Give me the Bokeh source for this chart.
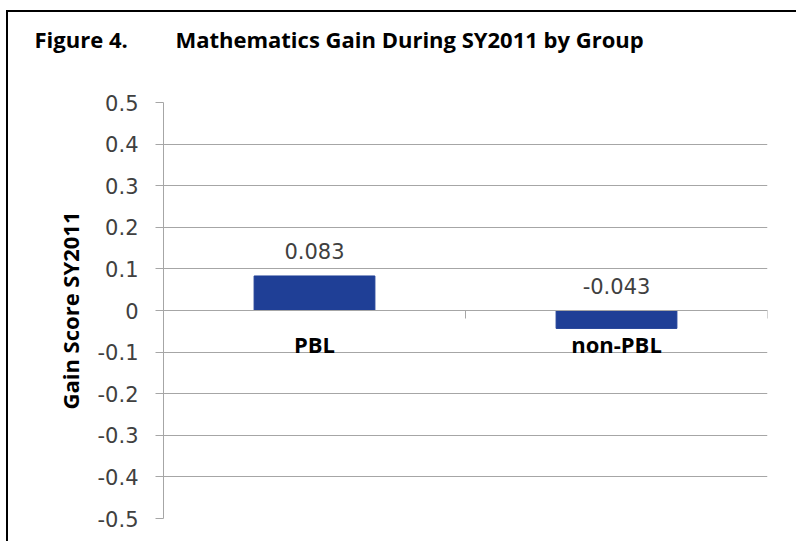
from bokeh.plotting import figure
from bokeh.models import (Range1d, LinearAxis, FixedTicker, ColumnDataSource, Title)
from bokeh.core.properties import value
from bokeh.embed import file_html
from bokeh.resources import INLINE

# ---- data ----
categories = ["PBL", "non-PBL"]
gain_values = [0.083, -0.043]
gain_labels = ["0.083", "-0.043"]
y_ticks = [-0.5, -0.4, -0.3, -0.2, -0.1, 0, 0.1, 0.2, 0.3, 0.4, 0.5]
y_tick_labels = ["-0.5", "-0.4", "-0.3", "-0.2", "-0.1", "0", "0.1", "0.2", "0.3", "0.4", "0.5"]
title_text = "Figure 4.\u2003\u2003\u2009Mathematics Gain During SY2011 by Group"
y_axis_title = "Gain Score SY2011"

GRID = "#A6A6A6"
BAR = "#1F3F96"
TXT = "#404040"

n = len(categories)
source = ColumnDataSource(dict(
    cat=categories,
    pos=[i + 0.5 for i in range(n)],          # category centres
    val=gain_values,
    lab=gain_labels,
    laby=[max(v, 0) for v in gain_values],
    zero=[0 for _ in gain_values],
))

p = figure(
    width=790, height=531,
    x_range=Range1d(0, n),
    y_range=Range1d(y_ticks[0], y_ticks[-1]),
    x_axis_location=None,
    output_backend="svg", toolbar_location=None, tools="",
    min_border_left=155, min_border_right=31, min_border_top=90, min_border_bottom=25,
)
p.styles = {"border-top": "2px solid black", "border-left": "2px solid black",
            "margin-left": "6px", "margin-top": "10px"}
p.outline_line_color = None
p.background_fill_color = "white"
p.border_fill_color = "white"

# title (outermost in the top panel)
p.title.text = title_text
p.title.text_font = "Open Sans"
p.title.text_font_style = "bold"
p.title.text_font_size = "22px"
p.title.text_color = "black"
p.title.align = "left"
p.title.vertical_align = "bottom"
p.title.offset = -129
p.title.standoff = 0
# blank spacer between title and plot area
p.add_layout(Title(text=" ", text_font_size="1px", standoff=46), "above")

# y axis
yax = p.yaxis[0]
yax.ticker = FixedTicker(ticks=y_ticks)
yax.major_label_overrides = {t: l for t, l in zip(y_ticks, y_tick_labels)}
yax.major_label_text_font = "DejaVu Sans"
yax.major_label_text_font_size = "21px"
yax.major_label_text_color = TXT
yax.major_label_standoff = 17
yax.major_tick_out = 8
yax.major_tick_in = 0
yax.minor_tick_out = 0
yax.minor_tick_in = 0
yax.major_tick_line_color = GRID
yax.axis_line_color = GRID
yax.axis_label = y_axis_title
yax.axis_label_text_font = "Open Sans"
yax.axis_label_text_font_style = "bold"
yax.axis_label_text_font_size = "22px"
yax.axis_label_text_color = "black"
yax.axis_label_standoff = 10

p.ygrid.grid_line_color = GRID
p.xgrid.visible = False

# category axis at zero with ticks between categories (labels drawn separately)
bounds = list(range(n + 1))
xax = LinearAxis(
    ticker=FixedTicker(ticks=bounds),
    fixed_location=0,
    major_label_overrides={b: "" for b in bounds},
    major_label_text_font_size="1px",
    major_label_standoff=0,
    major_tick_out=8, major_tick_in=0,
    minor_tick_out=0, minor_tick_in=0,
    major_tick_line_color=GRID,
    axis_line_color=GRID,
)
p.add_layout(xax, "below")

# bars
p.vbar(x="pos", top="val", bottom=0, width=0.4, source=source,
       fill_color=BAR, line_color=BAR)

# value labels
p.text(x="pos", y="laby", text="lab", source=source,
       text_font=value("DejaVu Sans"), text_font_size="21px", text_color=TXT,
       text_align="center", text_baseline="alphabetic", y_offset=-25)

# category labels below zero line
p.text(x="pos", y="zero", text="cat", source=source,
       text_font=value("Open Sans"), text_font_style="bold", text_font_size="22px",
       text_color="black", text_align="center", text_baseline="alphabetic", y_offset=33)

open("out.html", "w").write(file_html(p, INLINE))
